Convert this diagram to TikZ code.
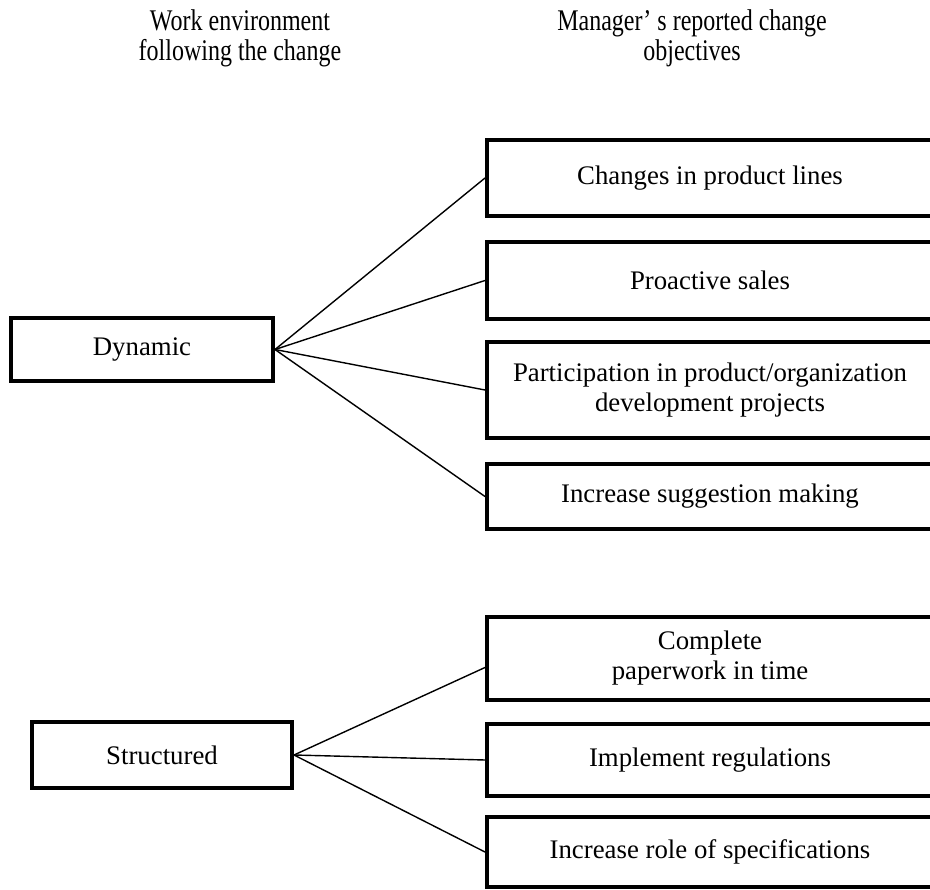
\documentclass[tikz,border=0pt]{standalone}
\usepackage{fontspec}
\setmainfont{Liberation Serif}
\newfontfamily\headfont[FakeStretch=0.8]{Liberation Serif}
\usepackage{tikz}
\tikzset{
  envbox/.style={draw, line width=4pt, align=center, inner sep=0pt,
                 font=\fontsize{26.8}{30}\selectfont},
  objbox/.style={envbox, minimum width=446pt},
  headtext/.style={align=center, font=\headfont\fontsize{30}{30}\selectfont},
  link/.style={line width=1.4pt}
}

\begin{document}
\begin{tikzpicture}[x=1pt, y=-1pt]
	\useasboundingbox (0,0) rectangle (930,890);
	\clip (0,0) rectangle (930,890);
	% column heads
	\node (hEnv) 	[headtext] at (240,38) 	{Work environment\\following the change};
	\node (hObj) 	[headtext] at (692,38) 	{Manager’ s reported change\\objectives};
	% work environments
	\node (dyn) 	[envbox, minimum width=262pt, minimum height=63pt] at (142,349.5) 	{Dynamic};
	\node (str) 	[envbox, minimum width=260pt, minimum height=66pt] at (162,755) 	{Structured};
	% objectives
	\node (c1) 	[objbox, minimum height=76pt] at (710,178) 	{Changes in product lines};
	\node (c2) 	[objbox, minimum height=77pt] at (710,280.5) 	{Proactive sales};
	\node (c3) 	[objbox, minimum height=96pt] at (710,390) 	{Participation in product/organization\\development projects};
	\node (c4) 	[objbox, minimum height=65pt] at (710,496.5) 	{Increase suggestion making};
	\node (c5) 	[objbox, minimum height=83pt] at (710,658.5) 	{Complete\\paperwork in time};
	\node (c6) 	[objbox, minimum height=72pt] at (710,760) 	{Implement regulations};
	\node (c7) 	[objbox, minimum height=70pt] at (710,852) 	{Increase role of specifications};
	% links
	\foreach \c in {c1,c2,c3,c4}
		\draw[link] (dyn.east) -- (\c.west);
	\draw[link] (str.east) -- ([yshift=-9pt]c5.west);
	\draw[link] (str.east) -- (c6.west);
	\draw[link] (str.east) -- (c7.west);
\end{tikzpicture}
\end{document}
